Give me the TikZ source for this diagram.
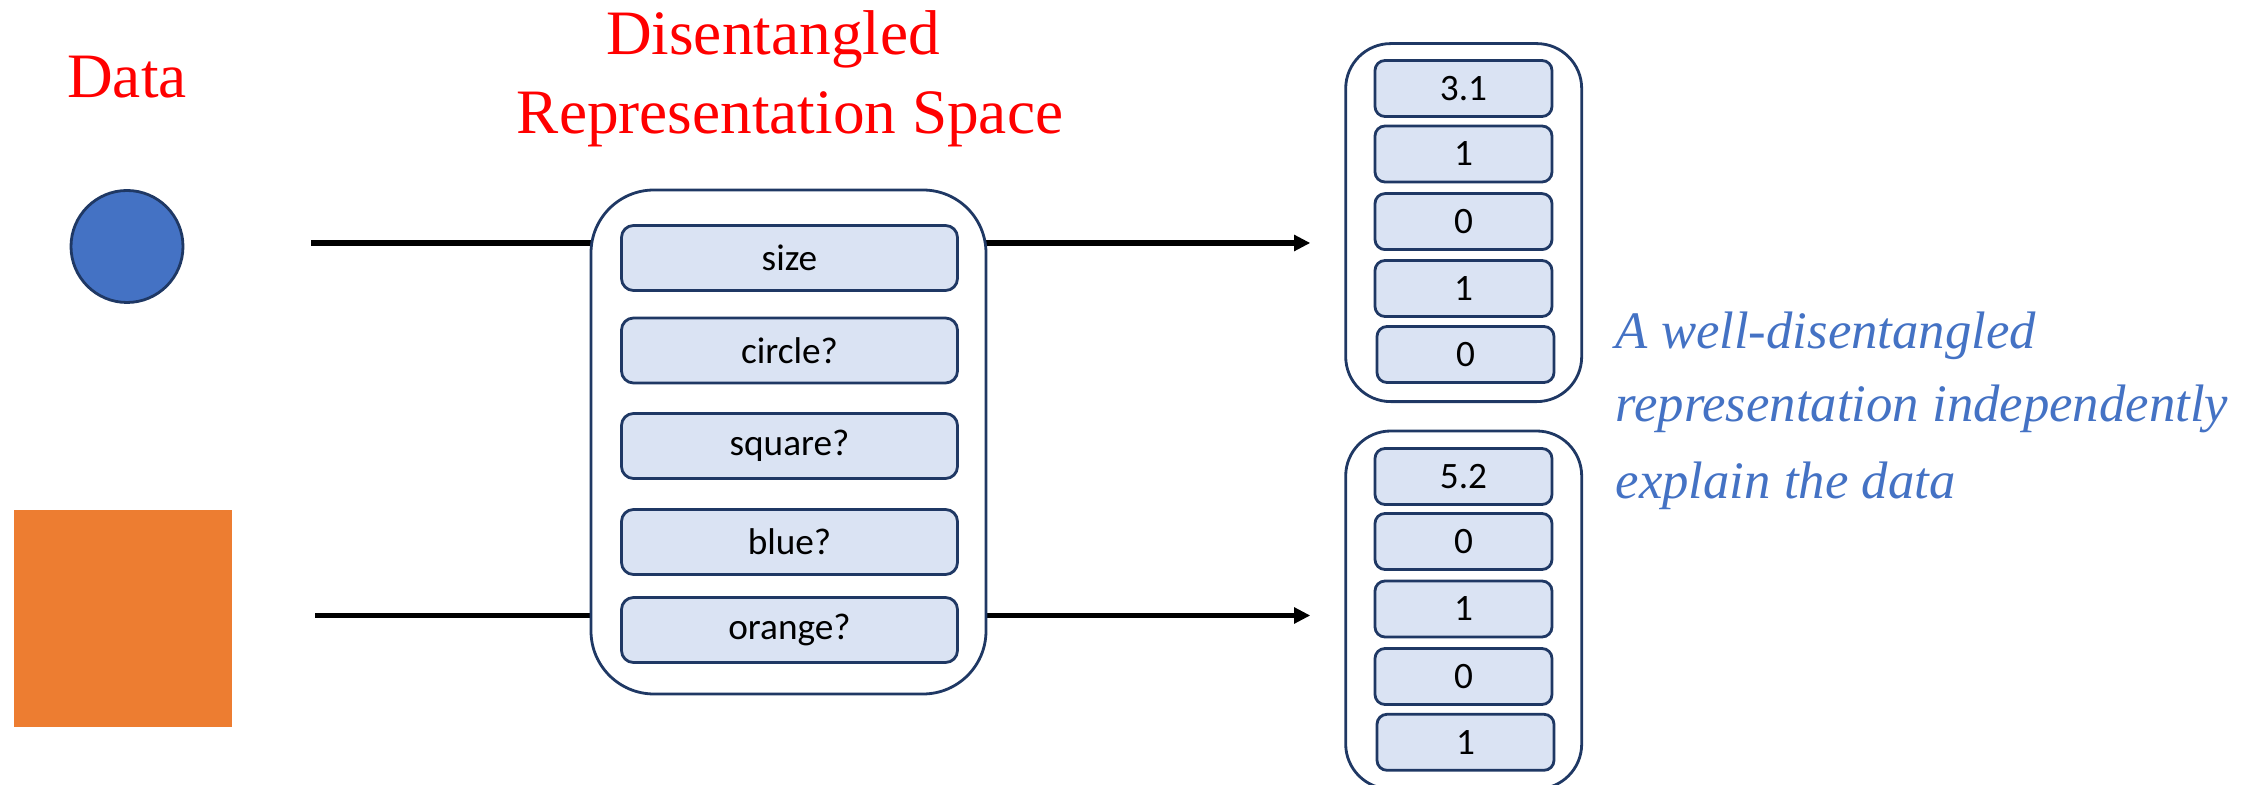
\documentclass[tikz,border=0pt]{standalone}
\usepackage{fontspec}
\setmainfont{Liberation Serif}
\newfontfamily\calfont{Carlito}
\usetikzlibrary{arrows.meta}

\definecolor{titlered}{HTML}{FF0000}
\definecolor{noteblue}{HTML}{4472C4}
\definecolor{sqorange}{HTML}{ED7D31}
\definecolor{cellfill}{HTML}{DAE3F3}
\definecolor{navy}{HTML}{1F3864}

\tikzset{
    title/.style = {text = titlered, font = \fontsize{18}{22}\selectfont, anchor = base, inner sep = 0pt},
    note/.style = {text = noteblue, font = \itshape\fontsize{15}{21}\selectfont, anchor = base west, inner sep = 0pt},
    space/.style = {draw = navy, line width = 0.8pt, fill = white, rounded corners = 0.63cm, minimum width = 3.95cm, minimum height = 5.04cm},
    vec/.style = {draw = navy, line width = 0.8pt, fill = white, rounded corners = 0.45cm, minimum width = 2.36cm, minimum height = 3.58cm},
    cell/.style = {draw = navy, line width = 0.8pt, fill = cellfill, rounded corners = 0.12cm, inner sep = 0pt,
        minimum width = 3.36cm, minimum height = 0.65cm, font = \calfont\fontsize{10.6}{12}\selectfont},
    valcell/.style = {cell, rounded corners = 0.1cm, minimum width = 1.77cm, minimum height = 0.56cm},
    flow/.style = {line width = 1.6pt, -{Triangle[length = 4.6pt, width = 4.4pt]}, shorten > = 3.4mm}
}

\begin{document}
\begin{tikzpicture}
                \useasboundingbox (0, 0) rectangle (22.56, 7.85);

                % titles
                \node [title] (datalabel) at (1.27, 6.87) {Data};
                \node [title] (title1) at (7.73, 7.30) {Disentangled};
                \node [title] (title2) at (7.90, 6.51) {Representation Space};

                % the data
                \node [circle, fill = noteblue, draw = navy, line width = 0.8pt, minimum size = 1.12cm, inner sep = 0pt] (dot) at (1.27, 5.385) {};
                \node [fill = sqorange, minimum width = 2.18cm, minimum height = 2.17cm, inner sep = 0pt] (square) at (1.23, 1.665) {};

                % the two codes
                \node [vec] (vec1) at (14.637, 5.624) {};
                \node [valcell] (v11) at (14.635, 6.965) {3.1};
                \node [valcell] (v12) at (14.635, 6.31) {1};
                \node [valcell] (v13) at (14.635, 5.634) {0};
                \node [valcell] (v14) at (14.635, 4.965) {1};
                \node [valcell] (v15) at (14.655, 4.305) {0};

                \node [vec] (vec2) at (14.637, 1.75) {};
                \node [valcell] (v21) at (14.635, 3.085) {5.2};
                \node [valcell] (v22) at (14.635, 2.435) {0};
                \node [valcell] (v23) at (14.635, 1.76) {1};
                \node [valcell] (v24) at (14.635, 1.085) {0};
                \node [valcell] (v25) at (14.655, 0.427) {1};

                % arrows
                \coordinate (in1) at (3.11, 5.42);
                \coordinate (in2) at (3.15, 1.695);
                \draw [flow] (in1) -- (in1 -| vec1.west);
                \draw [flow] (in2) -- (in2 -| vec2.west);

                % representation space
                \node [space] (space) at (7.885, 3.43) {};
                \node [cell] (size) at (7.895, 5.27) {size};
                \node [cell] (circ) at (7.895, 4.345) {circle?};
                \node [cell] (sqr) at (7.895, 3.39) {square?};
                \node [cell] (blue) at (7.895, 2.43) {blue?};
                \node [cell] (orange) at (7.895, 1.55) {orange?};

                % remark
                \node [note] (note1) at (16.15, 4.36) {A well-disentangled};
                \node [note] (note2) at (16.15, 3.63) {representation independently};
                \node [note] (note3) at (16.15, 2.86) {explain the data};
            \end{tikzpicture}
\end{document}
